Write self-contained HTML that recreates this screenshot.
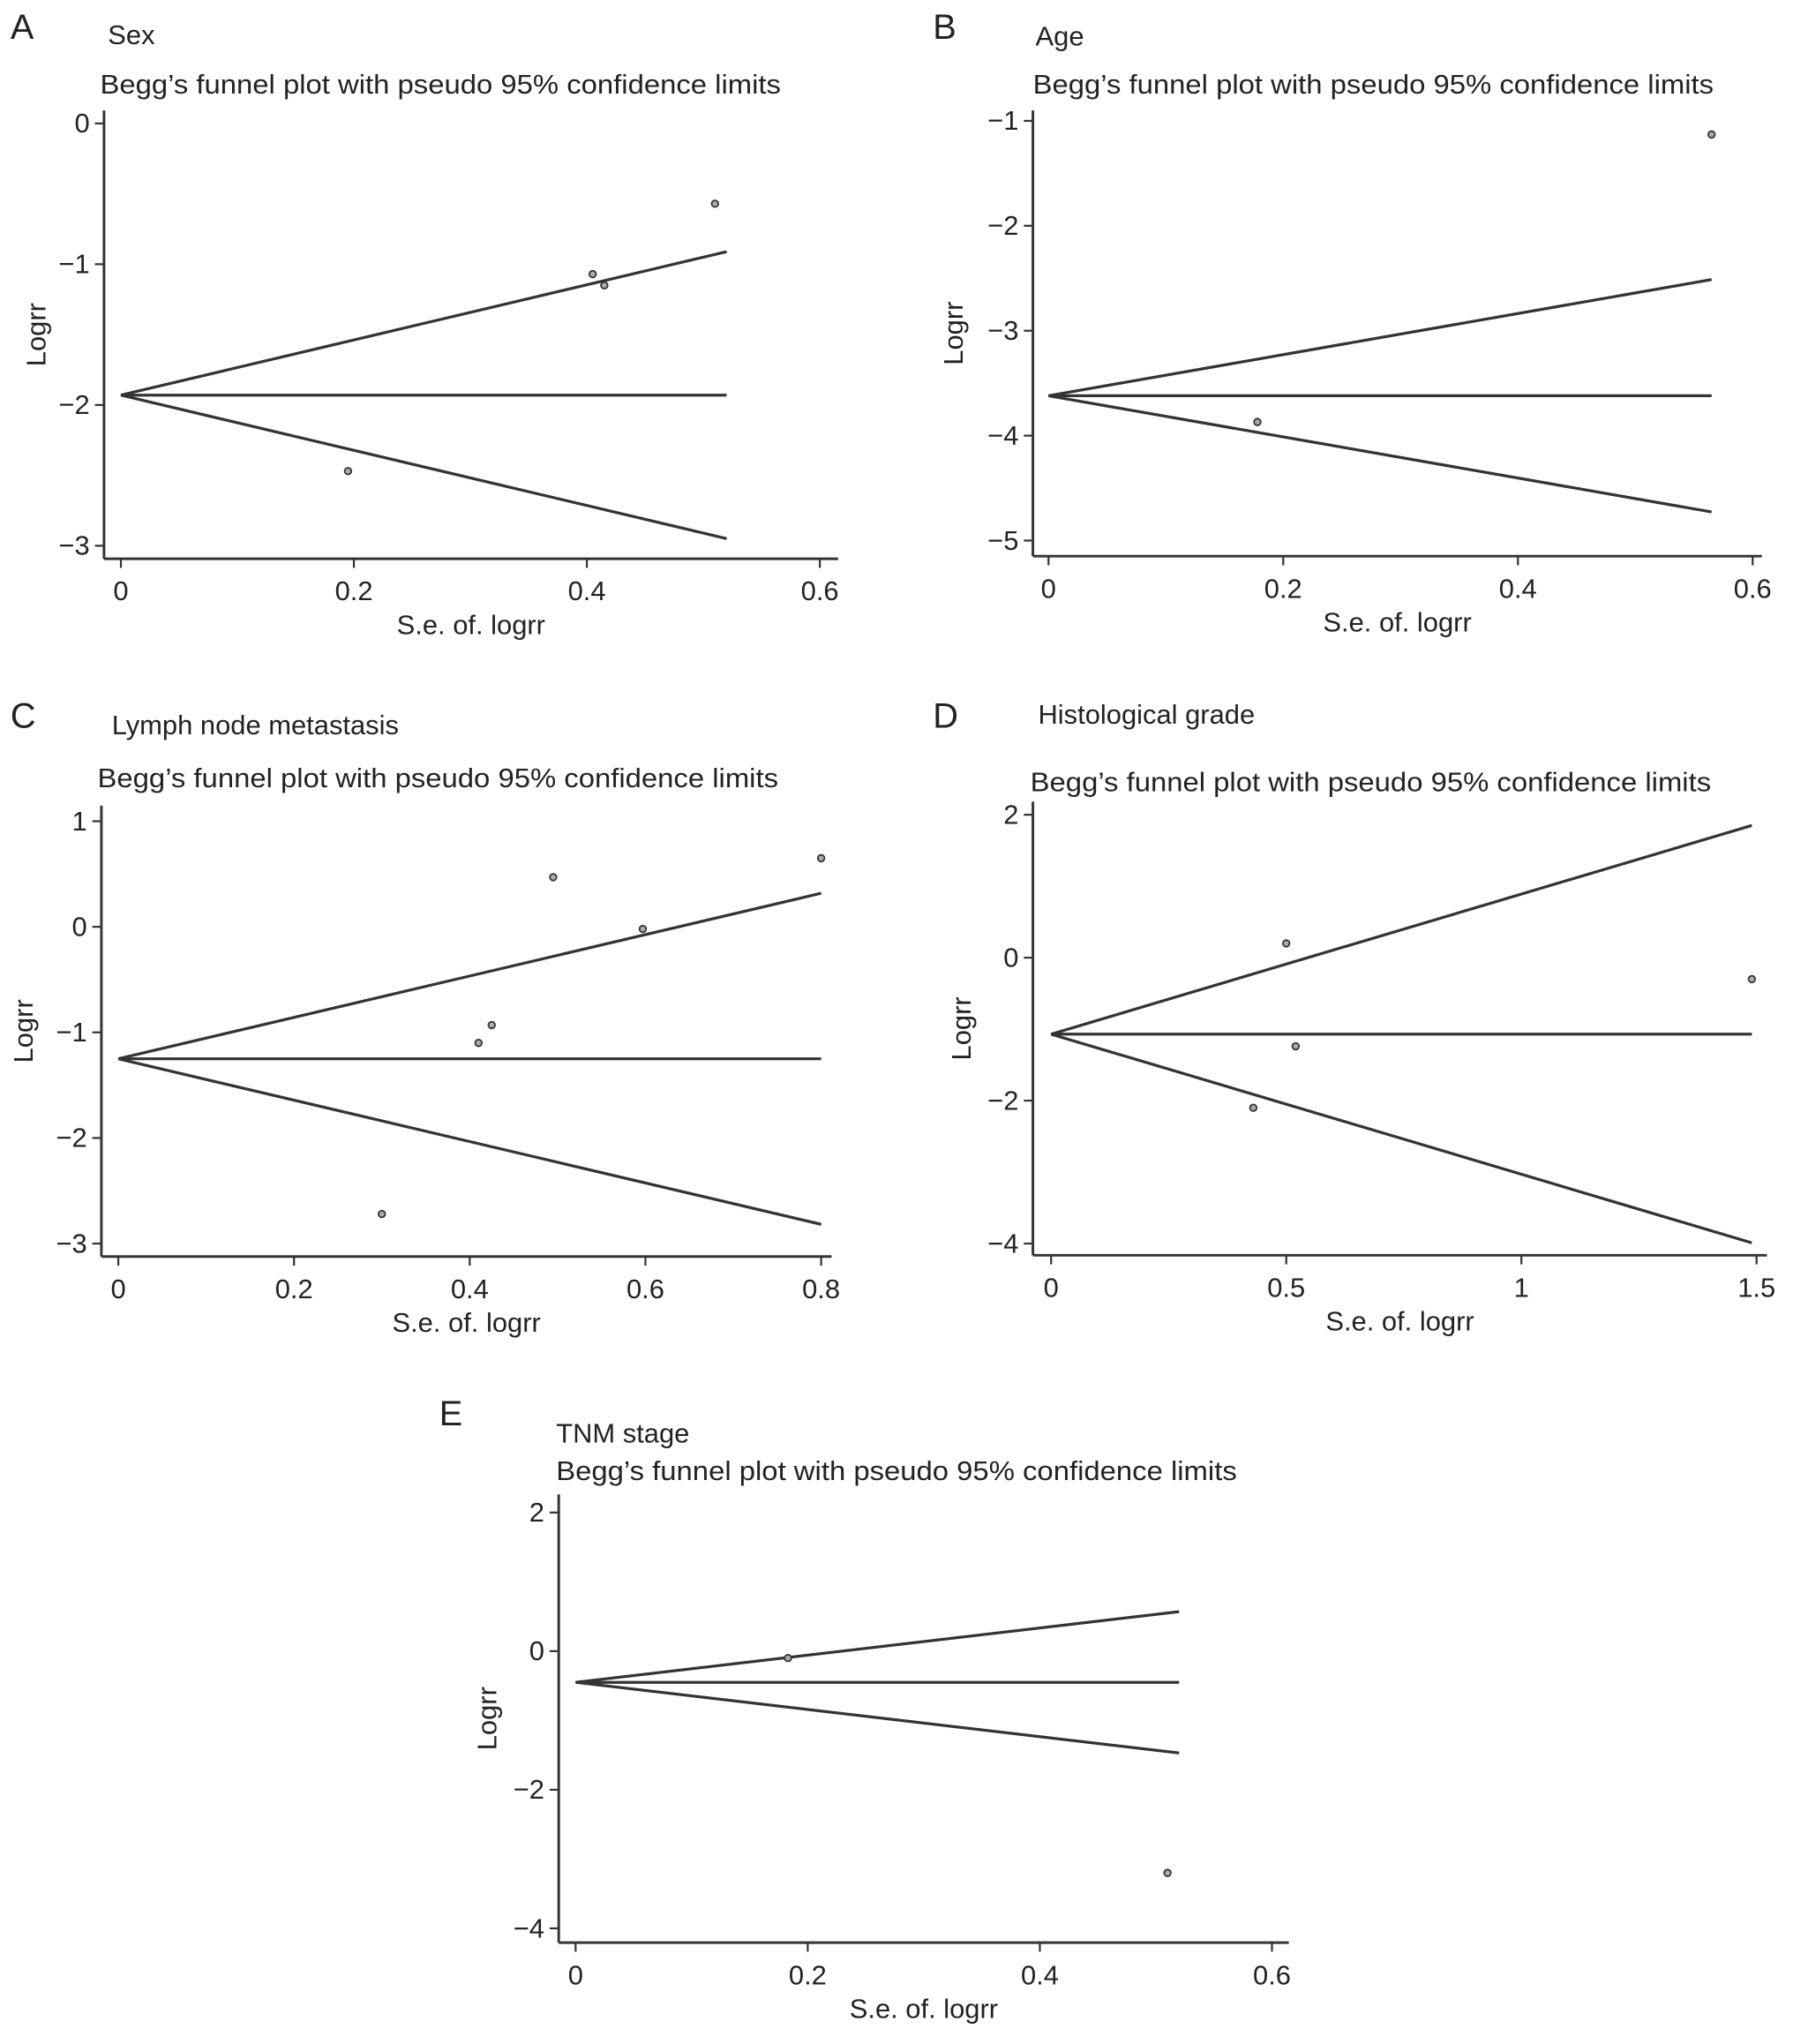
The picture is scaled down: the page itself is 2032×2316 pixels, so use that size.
<!DOCTYPE html>
<html><head><meta charset="utf-8"><style>
html,body{margin:0;padding:0;background:#fff}
svg{display:block}
text{font-family:"Liberation Sans",Arial,sans-serif;fill:#222}
</style></head><body>
<svg id="fig" width="2032" height="2316" viewBox="0 0 1380 1573" xmlns="http://www.w3.org/2000/svg"></svg>
<script>
// Panel A - Sex
const aX = [0.195, 0.405, 0.415, 0.51];
const aY = [-2.47, -1.07, -1.15, -0.57];
const aCenter = -1.93, aMaxSE = 0.52;
const aXTicks = [0, 0.2, 0.4, 0.6];
const aYTicks = [0, -1, -2, -3];
// Panel B - Age
const bX = [0.565, 0.178];
const bY = [-1.13, -3.87];
const bCenter = -3.62, bMaxSE = 0.565;
const bXTicks = [0, 0.2, 0.4, 0.6];
const bYTicks = [-1, -2, -3, -4, -5];
// Panel C - Lymph node metastasis
const cX = [0.3, 0.41, 0.425, 0.495, 0.597, 0.8];
const cY = [-2.72, -1.1, -0.93, 0.47, -0.02, 0.65];
const cCenter = -1.25, cMaxSE = 0.8;
const cXTicks = [0, 0.2, 0.4, 0.6, 0.8];
const cYTicks = [1, 0, -1, -2, -3];
// Panel D - Histological grade
const dX = [0.5, 0.52, 0.43, 1.49];
const dY = [0.2, -1.24, -2.1, -0.3];
const dCenter = -1.07, dMaxSE = 1.49;
const dXTicks = [0, 0.5, 1, 1.5];
const dYTicks = [2, 0, -2, -4];
// Panel E - TNM stage
const eX = [0.183, 0.51];
const eY = [-0.1, -3.2];
const eCenter = -0.45, eMaxSE = 0.52;
const eXTicks = [0, 0.2, 0.4, 0.6];
const eYTicks = [2, 0, -2, -4];

const NS = "http://www.w3.org/2000/svg";
const fig = document.getElementById('fig');
function el(tag, attrs, parent, txt){
  const e = document.createElementNS(NS, tag);
  for (const k in attrs) e.setAttribute(k, attrs[k]);
  if (txt !== undefined) e.textContent = txt;
  parent.appendChild(e); return e;
}
function fmt(v){ return v < 0 ? '\u2212' + Math.abs(v) : String(v); }

function panel(cfg){
  const g = el('g', {}, fig);
  
  
  const sx = v => cfg.x0px + (v - cfg.xt[0]) / (cfg.xt[cfg.xt.length-1] - cfg.xt[0]) * (cfg.x1px - cfg.x0px);
  const sy = v => cfg.y0px + (v - cfg.yt[0]) / (cfg.yt[cfg.yt.length-1] - cfg.yt[0]) * (cfg.y1px - cfg.y0px);
  const L = el('text', {x: cfg.letterX, y: cfg.letterY, 'font-size': 27}, g, cfg.letter);
  
  
  const t1 = el('text', {x: cfg.subX, y: cfg.subY, 'font-size': 21}, g, cfg.sub);
  
  
  const t2 = el('text', {x: cfg.titX, y: cfg.titY, 'font-size': 21, textLength: 524, lengthAdjust: 'spacingAndGlyphs'}, g, "Begg\u2019s funnel plot with pseudo 95% confidence limits");
  
  
  const ya = el('line', {x1: cfg.axX, y1: cfg.axTop, x2: cfg.axX, y2: cfg.axBot, stroke: '#333', 'stroke-width': 2}, g);
  
  
  const xa = el('line', {x1: cfg.axX, y1: cfg.axBot, x2: cfg.axRight, y2: cfg.axBot, stroke: '#333', 'stroke-width': 2}, g);
  
  
  cfg.xt.forEach(v => {
    const x = sx(v);
    el('line', {x1: x, y1: cfg.axBot, x2: x, y2: cfg.axBot + 7, stroke: '#333', 'stroke-width': 1.5}, g);
    const t = el('text', {x: x, y: cfg.axBot + 32, 'font-size': 21, 'text-anchor': 'middle'}, g, fmt(v));
    
    
  });
  cfg.yt.forEach(v => {
    const y = sy(v);
    el('line', {x1: cfg.axX - 7, y1: y, x2: cfg.axX, y2: y, stroke: '#333', 'stroke-width': 1.5}, g);
    const t = el('text', {x: cfg.axX - 11, y: y + 7, 'font-size': 21, 'text-anchor': 'end'}, g, fmt(v));
    
    
  });
  const xl = el('text', {x: (cfg.axX + cfg.axRight) / 2, y: cfg.axBot + 58, 'font-size': 21, 'text-anchor': 'middle'}, g, 'S.e. of. logrr');
  
  
  const ymid = (cfg.axTop + cfg.axBot) / 2;
  const yl = el('text', {x: cfg.ylabX, y: ymid, 'font-size': 21, 'text-anchor': 'middle', transform: `rotate(-90 ${cfg.ylabX} ${ymid})`}, g, 'Logrr');
  
  
  const c = cfg.center, m = cfg.maxSE, z = 1.96;
  const ctr = el('line', {x1: sx(0), y1: sy(c), x2: sx(m), y2: sy(c), stroke: '#333', 'stroke-width': 2.2}, g);
  
  
  const up = el('line', {x1: sx(0), y1: sy(c), x2: sx(m), y2: sy(c + z * m), stroke: '#333', 'stroke-width': 2.2}, g);
  
  
  const lo = el('line', {x1: sx(0), y1: sy(c), x2: sx(m), y2: sy(c - z * m), stroke: '#333', 'stroke-width': 2.2}, g);
  
  
  cfg.xs.forEach((v, i) => {
    const p = el('circle', {cx: sx(v), cy: sy(cfg.ys[i]), r: 2.6, fill: '#aaa', stroke: '#333', 'stroke-width': 1.2}, g);
    
    
  });
}

panel({letter:'A', letterX:8, letterY:30, sub:'Sex', subX:83, subY:34, titX:77, titY:72,
  xt:aXTicks, yt:aYTicks, x0px:93, x1px:631, y0px:95, y1px:420,
  axX:80, axTop:85, axBot:430, axRight:645, ylabX:35,
  xs:aX, ys:aY, center:aCenter, maxSE:aMaxSE});
panel({letter:'B', letterX:718, letterY:30, sub:'Age', subX:797, subY:35, titX:795, titY:72,
  xt:bXTicks, yt:bYTicks, x0px:807, x1px:1349, y0px:93, y1px:416,
  axX:795, axTop:85, axBot:428, axRight:1356, ylabX:741,
  xs:bX, ys:bY, center:bCenter, maxSE:bMaxSE});
panel({letter:'C', letterX:8, letterY:560, sub:'Lymph node metastasis', subX:86, subY:565, titX:75, titY:606,
  xt:cXTicks, yt:cYTicks, x0px:91, x1px:632, y0px:632, y1px:957,
  axX:78, axTop:620, axBot:967, axRight:640, ylabX:25,
  xs:cX, ys:cY, center:cCenter, maxSE:cMaxSE});
panel({letter:'D', letterX:718, letterY:560, sub:'Histological grade', subX:799, subY:557, titX:793, titY:609,
  xt:dXTicks, yt:dYTicks, x0px:809, x1px:1352, y0px:627, y1px:957,
  axX:795, axTop:617, axBot:966, axRight:1360, ylabX:747,
  xs:dX, ys:dY, center:dCenter, maxSE:dMaxSE});
panel({letter:'E', letterX:338, letterY:1097, sub:'TNM stage', subX:428, subY:1110, titX:428, titY:1139,
  xt:eXTicks, yt:eYTicks, x0px:443, x1px:979, y0px:1164, y1px:1484,
  axX:430, axTop:1150, axBot:1495, axRight:992, ylabX:382,
  xs:eX, ys:eY, center:eCenter, maxSE:eMaxSE});
</script>
</body></html>
